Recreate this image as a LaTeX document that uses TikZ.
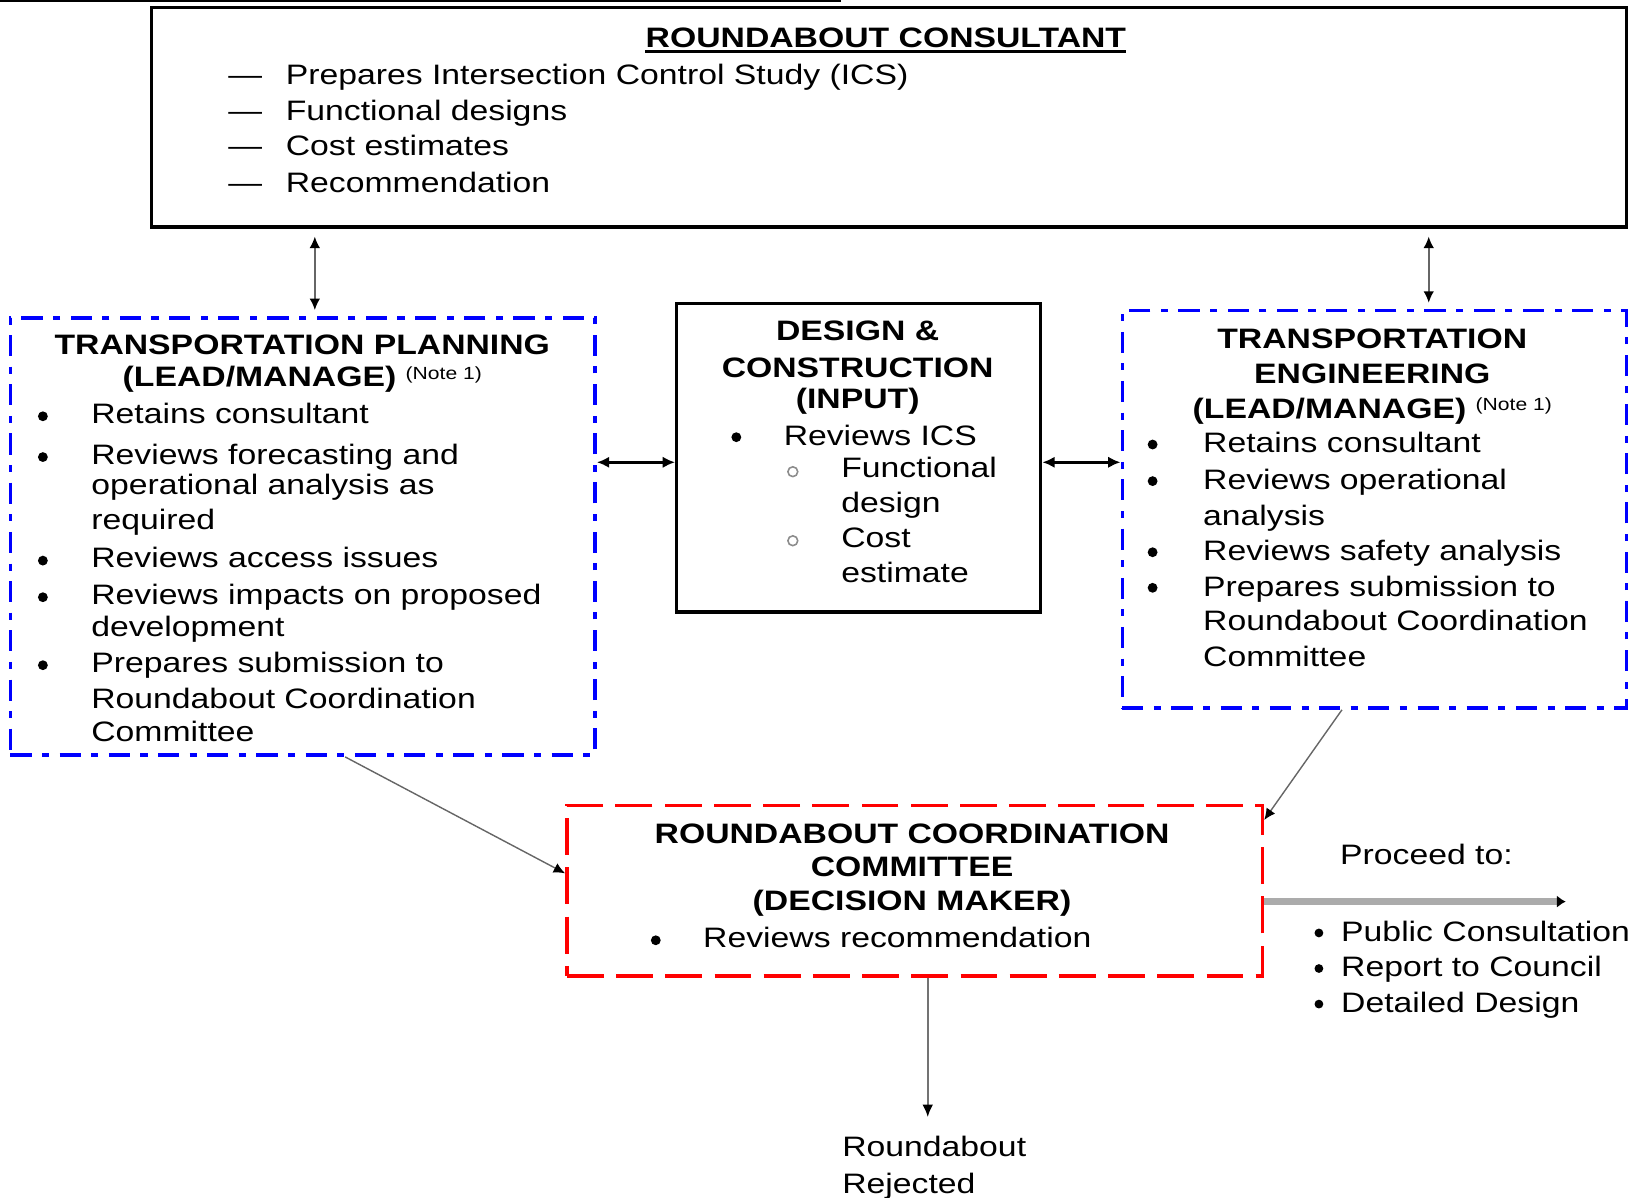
\documentclass[tikz,border=0pt]{standalone}
\usepackage{fontspec}
\setmainfont{Liberation Sans}[FakeStretch=1.2]
\usetikzlibrary{arrows.meta,fit}
\tikzset{
        every node/.style={inner sep=0pt},
        itemtext/.style={anchor=base west, font=\fontsize{16}{19}\selectfont},
        heading/.style={anchor=base, font=\fontsize{16}{19}\selectfont\bfseries},
        consult/.style={draw=black, line width=2pt},
        inputbox/.style={draw=black, line width=1.9pt},
        lead/.style={draw=blue, line width=2pt, dash pattern=on 12pt off 6pt on 4pt off 6pt},
        decision/.style={draw=red, line width=2pt, dash pattern=on 21pt off 7pt},
        link/.style={draw=black!60, line width=0.8pt, -{Latex[length=6.5pt,width=6pt,color=black]}},
        biarrow/.style={draw=black!60, line width=0.9pt, {Latex[length=6.5pt,width=6pt,color=black]}-{Latex[length=6.5pt,width=6pt,color=black]}},
        sidearrow/.style={draw=black, line width=1.4pt, {Latex[length=7pt,width=6.5pt]}-{Latex[length=7pt,width=6.5pt]}},
        proceed/.style={draw=black!33, line width=3.6pt, -{Latex[length=5pt,width=7pt,color=black]}},
        reject/.style={draw=black!55, line width=1.1pt, -{Latex[length=7pt,width=6pt,color=black]}}
          }
\newcommand{\notemark}{\raisebox{4.5pt}{\fontsize{10}{11}\mdseries\selectfont(Note 1)}}

\begin{document}
\begin{tikzpicture}[x=0.020918cm, y=-0.020918cm]
        \useasboundingbox (0,0) rectangle (1568,1145);
        \draw[line width=1.2pt] (0,1) -- (804,1);
        \node[consult, fit={(145,7) (1555,217)}] (consult) {};
        \node[lead, fit={(10,304) (569,722)}] (plan) {};
        \node[inputbox, fit={(647,290) (995,585)}] (design) {};
        \node[lead, fit={(1073,297) (1555,677)}] (eng) {};
        \node[decision, fit={(542,770) (1207,933)}] (decide) {};

        \node[heading] (rc-title) at (847,45) {ROUNDABOUT CONSULTANT};
        \draw[line width=1.5pt] ([yshift=-2.7pt]rc-title.base west) -- ([yshift=-2.7pt]rc-title.base east);
        \foreach \y/\t [count=\i] in {81/Prepares Intersection Control Study (ICS), 115/Functional designs, 149/Cost estimates, 184/Recommendation}
          \node[itemtext] (rc-\i) at (218,\y) {\makebox[1.15cm][l]{—}\t};

        \node[heading] (pl-t1) at (289,339) {TRANSPORTATION PLANNING};
        \node[heading] (pl-t2) at (289,370) {(LEAD/MANAGE) \notemark};
        \foreach \y/\t [count=\i] in {405/Retains consultant, 444/Reviews forecasting and, 473/operational analysis as, 506/required, 543/Reviews access issues, 578/Reviews impacts on proposed, 609/development, 643/Prepares submission to, 677/Roundabout Coordination, 709/Committee}
          \node[itemtext] (pl-\i) at (87,\y) {\t};
        \foreach \y in {405,444,543,578,643}
          \fill (41,\y-7) circle (2.8pt);

        \foreach \y/\t [count=\i] in {326/DESIGN \&, 361/CONSTRUCTION, 391/(INPUT)}
          \node[heading] (dc-t\i) at (820,\y) {\t};
        \node[itemtext] (dc-1) at (749,426) {Reviews ICS};
        \foreach \y/\t [count=\i from 2] in {457/Functional, 490/design, 523/Cost, 557/estimate}
          \node[itemtext] (dc-\i) at (804,\y) {\t};
        \fill (704,418) circle (2.8pt);
        \foreach \y in {451,517}
          \draw[black!45, line width=0.9pt] (758,\y) circle (2.8pt);

        \foreach \y/\t [count=\i] in {333/TRANSPORTATION, 367/ENGINEERING, 400/{(LEAD/MANAGE) \notemark}}
          \node[heading] (te-t\i) at (1312,\y) {\t};
        \foreach \y/\t [count=\i] in {433/Retains consultant, 468/Reviews operational, 502/analysis, 536/Reviews safety analysis, 570/Prepares submission to, 603/Roundabout Coordination, 637/Committee}
          \node[itemtext] (te-\i) at (1150,\y) {\t};
        \foreach \y in {433,468,536,570}
          \fill (1102,\y-8) circle (2.8pt);

        \foreach \y/\t [count=\i] in {806/ROUNDABOUT COORDINATION, 838/COMMITTEE, 871/(DECISION MAKER)}
          \node[heading] (rcc-t\i) at (872,\y) {\t};
        \node[itemtext] (rcc-1) at (672,906) {Reviews recommendation};
        \fill (627,899) circle (2.8pt);

        \node[itemtext] (go) at (1281,827) {Proceed to:};
        \foreach \y/\t [count=\i] in {900/Public Consultation, 934/Report to Council, 968/Detailed Design}
          \node[itemtext] (go-\i) at (1282,\y) {\t};
        \foreach \y in {900,934,968}
          \fill (1261,\y-8) circle (2.5pt);
        \node[itemtext] (no-1) at (805,1106) {Roundabout};
        \node[itemtext] (no-2) at (805,1141) {Rejected};

        \coordinate (onward) at (1497,862);
        \coordinate (stop) at (887,1068);
        \draw[biarrow, shorten <=4.5pt, shorten >=3.5pt] (consult.south -| 301,0) -- (plan.north -| 301,0);
        \draw[biarrow, shorten <=4.5pt, shorten >=3.5pt] (consult.south -| 1366,0) -- (eng.north -| 1366,0);
        \draw[sidearrow] (plan.east |- 0,442) -- (design.west |- 0,442);
        \draw[sidearrow] (design.east |- 0,442) -- (eng.west |- 0,442);
        \draw[link] (plan.south -| 330,0) -- (decide.west |- 0,835);
        \draw[link] (eng.south -| 1283,0) -- (decide.east |- 0,784);
        \draw[proceed] (decide.east |- onward) -- (onward);
        \draw[reject] (decide.south -| stop) -- (stop);
\end{tikzpicture}
\end{document}
